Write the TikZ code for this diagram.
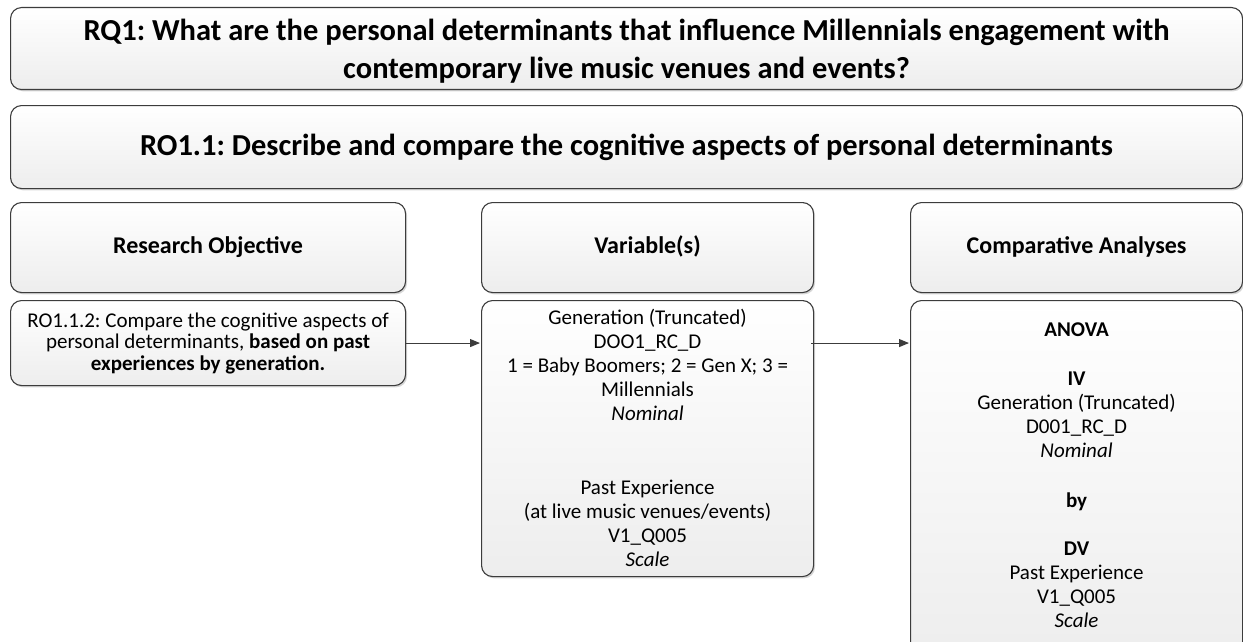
\documentclass[tikz,border=0pt]{standalone}
\usepackage{fontspec}
\setmainfont{Carlito}
\usetikzlibrary{shadows,arrows.meta}
\definecolor{edge}{HTML}{3C3C3C}
\frenchspacing
\begin{document}
\begin{tikzpicture}[x=1pt,y=-1pt,
  panel/.style={draw=edge, line width=1.1pt, rounded corners=11pt,
    top color=white, bottom color=black!7, anchor=north west, inner sep=0pt,
    drop shadow={shadow xshift=1.5pt, shadow yshift=-1.8pt, opacity=0.4, fill=black!40}},
  titletxt/.style={font=\fontsize{30.5}{38}\selectfont\bfseries, align=center, inner sep=0pt},
  headtxt/.style={font=\fontsize{24}{28}\selectfont\bfseries, inner sep=0pt,
    text height=17pt, text depth=5pt},
  bodytxt/.style={font=\fontsize{21}{24}\selectfont, align=center, inner sep=0pt},
  link/.style={draw=edge, line width=1.1pt, -{Triangle[length=10pt,width=8pt]}, shorten >=1pt}]
\useasboundingbox (0,0) rectangle (1243,642);

% research question and objective banners
\node[panel, minimum width=1232pt, minimum height=82pt] (rq) at (10,7) {};
\node[titletxt] (rqt) at ([yshift=-3pt]rq.center)
  {RQ1: What are the personal determinants that influence Millennials engagement with\\
   contemporary live music venues and events?};
\node[panel, minimum width=1232pt, minimum height=83pt] (ro) at (10,105) {};
\node[titletxt] (rot) at (ro.center)
  {RO1.1: Describe and compare the cognitive aspects of personal determinants};

% column headers
\node[panel, minimum width=395pt, minimum height=90pt] (h1) at (10,202) {};
\node[headtxt] (h1t) at (h1.center) {Research Objective};
\node[panel, minimum width=332pt, minimum height=90pt] (h2) at (481,202) {};
\node[headtxt] (h2t) at (h2.center) {Variable(s)};
\node[panel, minimum width=332pt, minimum height=90pt] (h3) at (910,202) {};
\node[headtxt] (h3t) at (h3.center) {Comparative Analyses};

% column contents
\node[panel, minimum width=395pt, minimum height=85pt] (b1) at (10,300) {};
\node[bodytxt, font=\fontsize{21}{21.5}\selectfont] (b1t) at (b1.center)
  {RO1.1.2: Compare the cognitive aspects of\\
   personal determinants, \textbf{based on past}\\
   \textbf{experiences by generation.}};

\node[panel, minimum width=332pt, minimum height=276pt] (b2) at (481,300) {};
\node[bodytxt, anchor=north] (b2t) at ([yshift=-9pt]b2.north)
  {Generation (Truncated)\\
   DOO1\_RC\_D\\
   1 = Baby Boomers; 2 = Gen X; 3 =\\
   Millennials\\
   \textit{Nominal}\\[50pt]
   Past Experience\\
   (at live music venues/events)\\
   V1\_Q005\\
   \textit{Scale}};

\node[panel, minimum width=332pt, minimum height=360pt] (b3) at (910,300) {};
\node[bodytxt, anchor=north] (b3t) at ([yshift=-22.5pt]b3.north)
  {\textbf{ANOVA}\\[25pt]
   \textbf{IV}\\
   Generation (Truncated)\\
   D001\_RC\_D\\
   \textit{Nominal}\\[26pt]
   \textbf{by}\\[24pt]
   \textbf{DV}\\
   Past Experience\\
   V1\_Q005\\
   \textit{Scale}};

% connectors
\draw[link] (b1.east) -- (b1.east -| b2.west);
\draw[link] ([xshift=-3pt]b2.east |- b1.east) -- (b1.east -| b3.west);
\end{tikzpicture}
\end{document}
